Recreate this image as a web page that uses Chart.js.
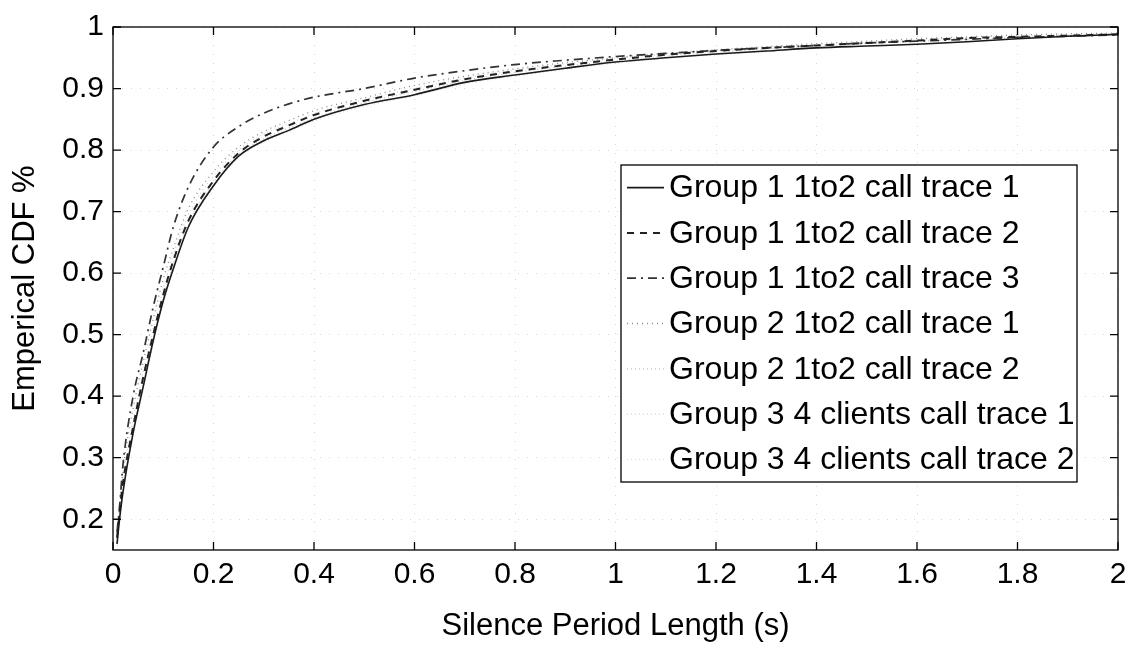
<!DOCTYPE html>
<html>
<head>
<meta charset="utf-8">
<title>Silence period CDF</title>
<script src="https://cdn.jsdelivr.net/npm/chart.js@4.4.1/dist/chart.umd.min.js"></script>
<style>
  html, body { margin: 0; padding: 0; background: #fff; }
  #wrap { width: 1140px; height: 651px; }
</style>
</head>
<body>
<div id="wrap"><canvas id="cdf"></canvas></div>
<script>
// silence period length (s), shared by every trace
const silence = [0.008, 0.013, 0.02, 0.04, 0.06, 0.08, 0.1, 0.12, 0.15, 0.2, 0.25, 0.3, 0.35, 0.4, 0.5, 0.6, 0.7, 0.8, 0.9, 1.0, 1.1, 1.2, 1.3, 1.4, 1.5, 1.6, 1.7, 1.8, 1.9, 2.0];

const g1t1 = [0.16, 0.2, 0.245, 0.34, 0.415, 0.49, 0.555, 0.607, 0.675, 0.742, 0.79, 0.815, 0.832, 0.85, 0.874, 0.89, 0.91, 0.922, 0.933, 0.943, 0.95, 0.956, 0.961, 0.966, 0.969, 0.972, 0.976, 0.981, 0.985, 0.988];
const g1t2 = [0.17, 0.21, 0.26, 0.35, 0.43, 0.5, 0.565, 0.62, 0.685, 0.75, 0.795, 0.822, 0.84, 0.857, 0.88, 0.898, 0.915, 0.928, 0.938, 0.947, 0.955, 0.961, 0.966, 0.97, 0.974, 0.978, 0.982, 0.984, 0.986, 0.988];
const g1t3 = [0.18, 0.22, 0.29, 0.4, 0.47, 0.545, 0.61, 0.675, 0.74, 0.805, 0.838, 0.86, 0.875, 0.886, 0.9, 0.917, 0.929, 0.939, 0.946, 0.952, 0.957, 0.962, 0.966, 0.97, 0.974, 0.977, 0.98, 0.983, 0.985, 0.987];
const g2t1 = [0.17, 0.22, 0.28, 0.38, 0.455, 0.525, 0.59, 0.64, 0.705, 0.765, 0.805, 0.83, 0.848, 0.864, 0.885, 0.905, 0.92, 0.932, 0.942, 0.95, 0.957, 0.963, 0.968, 0.973, 0.977, 0.981, 0.984, 0.987, 0.989, 0.99];
const g2t2 = [0.16, 0.2, 0.25, 0.345, 0.42, 0.495, 0.56, 0.615, 0.68, 0.748, 0.793, 0.818, 0.836, 0.852, 0.877, 0.895, 0.913, 0.926, 0.936, 0.945, 0.953, 0.959, 0.964, 0.969, 0.973, 0.977, 0.98, 0.983, 0.986, 0.989];
const g3t1 = [0.17, 0.21, 0.265, 0.36, 0.44, 0.51, 0.575, 0.63, 0.695, 0.758, 0.8, 0.826, 0.843, 0.859, 0.882, 0.9, 0.917, 0.93, 0.94, 0.949, 0.956, 0.962, 0.967, 0.971, 0.975, 0.979, 0.983, 0.986, 0.988, 0.99];
const g3t2 = [0.15, 0.19, 0.24, 0.335, 0.41, 0.485, 0.55, 0.603, 0.672, 0.74, 0.788, 0.813, 0.83, 0.847, 0.871, 0.888, 0.907, 0.92, 0.931, 0.941, 0.949, 0.955, 0.96, 0.965, 0.969, 0.973, 0.977, 0.981, 0.985, 0.988];

const labels = [
	"Group 1 1to2 call trace 1",
	"Group 1 1to2 call trace 2",
	"Group 1 1to2 call trace 3",
	"Group 2 1to2 call trace 1",
	"Group 2 1to2 call trace 2",
	"Group 3 4 clients call trace 1",
	"Group 3 4 clients call trace 2",
];

const xTicks = [0, 0.2, 0.4, 0.6, 0.8, 1, 1.2, 1.4, 1.6, 1.8, 2];
const yTicks = [0.2, 0.3, 0.4, 0.5, 0.6, 0.7, 0.8, 0.9, 1];

const FONT = "'Liberation Sans', Arial, Helvetica, sans-serif";

const pts = (ys) => silence.map((x, i) => ({ x: x, y: ys[i] }));

const line = (label, ys, color, width, dash) => ({
	label: label,
	data: pts(ys),
	borderColor: color,
	borderWidth: width,
	borderDash: dash,
	pointRadius: 0,
	fill: false,
	cubicInterpolationMode: "monotone",
});

// MATLAB style box, inward ticks and the legend
const matlabFrame = {
	id: "matlabFrame",
	afterDatasetsDraw(chart) {
		const { ctx, chartArea: a, scales } = chart;
		ctx.save();
		ctx.setLineDash([]);
		ctx.strokeStyle = "#000";
		ctx.lineWidth = 1.3;
		ctx.strokeRect(a.left, a.top, a.right - a.left, a.bottom - a.top);

		const len = 8;
		ctx.beginPath();
		xTicks.forEach((v) => {
			const px = scales.x.getPixelForValue(v);
			ctx.moveTo(px, a.bottom);
			ctx.lineTo(px, a.bottom - len);
			ctx.moveTo(px, a.top);
			ctx.lineTo(px, a.top + len);
		});
		yTicks.forEach((v) => {
			const py = scales.y.getPixelForValue(v);
			ctx.moveTo(a.left, py);
			ctx.lineTo(a.left + len, py);
			ctx.moveTo(a.right, py);
			ctx.lineTo(a.right - len, py);
		});
		ctx.stroke();

		// legend box
		const box = { left: 621, top: 165, right: 1077, bottom: 482 };
		const rowH = (box.bottom - box.top) / chart.data.datasets.length;
		ctx.fillStyle = "#fff";
		ctx.fillRect(box.left, box.top, box.right - box.left, box.bottom - box.top);
		ctx.strokeRect(box.left, box.top, box.right - box.left, box.bottom - box.top);

		ctx.font = "32px " + FONT;
		ctx.textBaseline = "middle";
		ctx.textAlign = "left";
		chart.data.datasets.forEach((ds, i) => {
			const cy = box.top + rowH * (i + 0.5);
			ctx.save();
			ctx.strokeStyle = ds.borderColor;
			ctx.lineWidth = ds.borderWidth;
			ctx.setLineDash(ds.borderDash || []);
			ctx.beginPath();
			ctx.moveTo(627, cy);
			ctx.lineTo(664, cy);
			ctx.stroke();
			ctx.restore();
			ctx.fillStyle = "#000";
			ctx.fillText(ds.label, 669, cy + 1);
		});
		ctx.restore();
	},
};

const cdfChart = new Chart(document.getElementById("cdf").getContext("2d"), {
	type: "line",
	data: {
		datasets: [
			line(labels[0], g1t1, "#1a1a1a", 1.6, []),
			line(labels[1], g1t2, "#222", 2, [7, 6]),
			line(labels[2], g1t3, "#333", 1.7, [9, 5, 2, 5]),
			line(labels[3], g2t1, "#8a8a8a", 1.3, [1, 4]),
			line(labels[4], g2t2, "#c4c4c4", 1.2, [1, 3]),
			line(labels[5], g3t1, "#d2d2d2", 1.2, [1, 3]),
			line(labels[6], g3t2, "#dadada", 1.2, [1, 3]),
		],
	},
	options: {
		responsive: true,
		maintainAspectRatio: false,
		animation: false,
		layout: { padding: { top: 13, right: 22, left: 0, bottom: 0 } },
		plugins: {
			legend: { display: false },
			tooltip: { enabled: false },
		},
		scales: {
			x: {
				type: "linear",
				min: 0,
				max: 2,
				afterBuildTicks: (s) => { s.ticks = xTicks.map((v) => ({ value: v })); },
				afterFit: (s) => { s.height = 101; },
				ticks: {
					color: "#000",
					font: { size: 30, family: FONT },
					padding: 7,
					maxRotation: 0,
					autoSkip: false,
					callback: (v) => String(Number(v.toFixed(1))),
				},
				grid: { color: "#d4d4d4", lineWidth: 1, drawTicks: false },
				border: { display: false, dash: [1, 8] },
				title: {
					display: true,
					text: "Silence Period Length (s)",
					color: "#000",
					font: { size: 31, family: FONT },
					padding: { top: 0, bottom: 6 },
				},
			},
			y: {
				type: "linear",
				min: 0.15,
				max: 1,
				afterBuildTicks: (s) => { s.ticks = yTicks.map((v) => ({ value: v })); },
				afterFit: (s) => { s.width = 113; },
				ticks: {
					color: "#000",
					font: { size: 30, family: FONT },
					padding: 9,
					autoSkip: false,
					callback: (v) => String(Number(v.toFixed(1))),
				},
				grid: { color: "#d4d4d4", lineWidth: 1, drawTicks: false },
				border: { display: false, dash: [1, 8] },
				title: {
					display: true,
					text: "Emperical CDF %",
					color: "#000",
					font: { size: 31, family: FONT },
					padding: { top: 7, bottom: 0 },
				},
			},
		},
	},
	plugins: [matlabFrame],
});
</script>
</body>
</html>
